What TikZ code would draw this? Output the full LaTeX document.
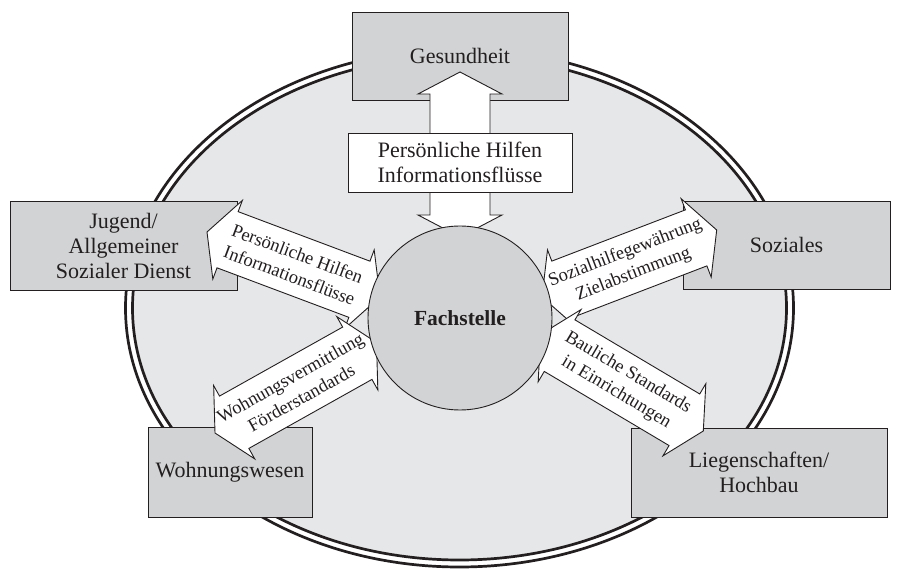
\documentclass[tikz,border=0pt]{standalone}
\usepackage{fontspec}
\setmainfont{Liberation Serif}
\usetikzlibrary{calc}
\definecolor{ringfill}{HTML}{E6E7E8}
\definecolor{boxfill}{HTML}{D1D3D4}
\definecolor{ink}{HTML}{231F20}

% wide white double-headed arrow between two named tips
\newcommand\fatarrow[2]{%
  \coordinate (#1-b) at ($(#1)!22pt!(#2)$);
  \coordinate (#2-b) at ($(#2)!22pt!(#1)$);
  \filldraw[arrowbody] (#1)
    -- ($(#1-b)!42pt!90:(#2)$) -- ($(#1-b)!30pt!90:(#2)$)
    -- ($(#2-b)!30pt!-90:(#1)$) -- ($(#2-b)!42pt!-90:(#1)$)
    -- (#2)
    -- ($(#2-b)!42pt!90:(#1)$) -- ($(#2-b)!30pt!90:(#1)$)
    -- ($(#1-b)!30pt!-90:(#2)$) -- ($(#1-b)!42pt!-90:(#2)$)
    -- cycle;
}

\begin{document}
\begin{tikzpicture}[x=1pt,y=-1pt,
  font=\fontsize{22}{25}\selectfont, text=ink,
  box/.style={draw=ink, line width=0.9pt, fill=boxfill, align=center, inner sep=0pt},
  arrowbody/.style={draw=ink, line width=0.9pt, fill=white, line join=miter},
  arrowtext/.style={align=center, inner sep=0pt, font=\fontsize{18.5}{23}\selectfont},
  ring/.style={draw=ink, line width=2.7pt}]
\useasboundingbox (0,0) rectangle (900,569);

% outer ring with double border
\draw[ring] (459.5,308) ellipse [x radius=334pt, y radius=259pt];
\filldraw[ring, fill=ringfill] (459.5,308) ellipse [x radius=327pt, y radius=252pt];

% departments
\node[box, minimum width=216pt, minimum height=88pt] (ges) at (460,56) {Gesundheit};
\node[box, minimum width=227pt, minimum height=89pt] (jug) at (123.5,245.5) {Jugend/\\Allgemeiner\\Sozialer Dienst};
\node[box, minimum width=207pt, minimum height=88pt] (soz) at (786.5,245) {Soziales};
\node[box, minimum width=164pt, minimum height=90pt] (woh) at (230,472) {Wohnungswesen};
\node[box, minimum width=256pt, minimum height=89pt] (lie) at (759,472.5) {Liegenschaften/\\Hochbau};

% arrow tips
\coordinate (g-out) at (460,72);   \coordinate (g-in) at (460,237);
\coordinate (j-out) at (207,232);  \coordinate (j-in) at (380,297);
\coordinate (s-out) at (716.7,230);\coordinate (s-in) at (542,297);
\coordinate (w-out) at (215,433);  \coordinate (w-in) at (376.5,342.5);
\coordinate (l-out) at (703.3,431);\coordinate (l-in) at (540.7,334.4);

\fatarrow{g-out}{g-in}
\fatarrow{j-out}{j-in}
\path (j-out) -- (j-in) node[midway, sloped, arrowtext] {Persönliche Hilfen\\Informationsflüsse};
\fatarrow{w-out}{w-in}
\path (w-out) -- (w-in) node[midway, sloped, arrowtext] {Wohnungsvermittlung\\Förderstandards};
\fatarrow{s-out}{s-in}
\path (s-out) -- (s-in) node[midway, sloped, arrowtext] {Sozialhilfegewährung\\Zielabstimmung};
\fatarrow{l-out}{l-in}
\path (l-out) -- (l-in) node[midway, sloped, arrowtext] {Bauliche Standards\\in Einrichtungen};

\node[draw=ink, line width=0.9pt, fill=white, align=center, inner sep=0pt,
      minimum width=224pt, minimum height=59pt] (glabel) at (460,162.5)
      {Persönliche Hilfen\\Informationsflüsse};

% central office
\node[circle, draw=ink, line width=0.9pt, fill=boxfill, minimum size=184pt, inner sep=0pt,
      font=\fontsize{21.5}{25}\selectfont\bfseries] (fach) at (460,318) {Fachstelle};
\end{tikzpicture}
\end{document}
